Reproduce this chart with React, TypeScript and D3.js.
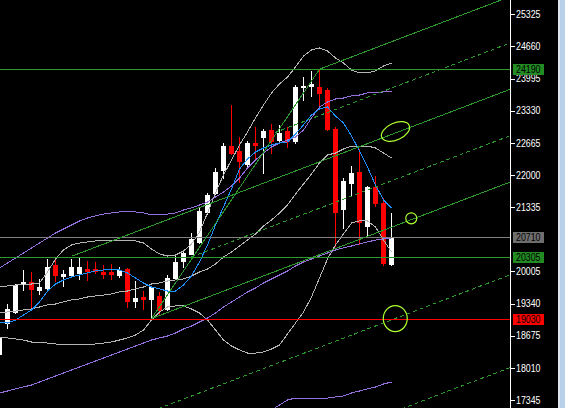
import { useEffect, useRef } from 'react'
import * as d3 from 'd3'

// daily candles, oldest first (bar 0 is cut by the left edge)
const opens = [18297, 18938, 19166, 19745, 19786, 19621, 19662, 20138, 19911, 19931,
  19973, 20055, 20055, 19993, 19993, 19931, 20055, 19393, 19476, 19435,
  19497, 19228, 19869, 20221, 20366, 20614, 21235, 21628, 22104, 22600,
  22497, 22228, 22662, 22786, 22931, 22724, 22911, 22704, 23821, 23842,
  23821, 23759, 22952, 21297, 21835, 22062, 20945, 21752, 21421, 20159]
const highs = [18669, 19331, 19745, 20035, 19993, 19849, 20262, 20242, 20035, 20262,
  20283, 20221, 20200, 20138, 20159, 20097, 20076, 19807, 19600, 19683,
  19580, 19931, 20324, 20428, 20800, 21318, 21628, 22145, 22662, 23448,
  22786, 22704, 22993, 22952, 23055, 23035, 22993, 23862, 24028, 24152,
  24190, 23800, 22993, 21938, 22186, 22538, 21773, 21980, 21524, 21214]
const lows = [18255, 18835, 19150, 19621, 19228, 19538, 19621, 19807, 19704, 19890,
  19849, 19828, 19973, 19869, 19849, 19890, 19269, 19269, 19228, 19030,
  19124, 19207, 19869, 20097, 20366, 20593, 21193, 21607, 21938, 22435,
  21855, 22166, 22352, 22042, 22455, 22662, 22580, 22662, 23552, 23635,
  23448, 22931, 20531, 20904, 21566, 20573, 20718, 21359, 20138, 20138]
const closes = [18628, 19228, 19724, 19786, 19642, 19683, 20097, 19931, 19952, 20097,
  20097, 20024, 20014, 19952, 19952, 20035, 19393, 19455, 19435, 19683,
  19207, 19869, 20200, 20386, 20676, 21255, 21586, 22062, 22600, 22455,
  22290, 22662, 22621, 22911, 22704, 22869, 22704, 23821, 23842, 23883,
  23697, 22952, 21235, 21876, 22042, 21028, 21752, 21421, 20180, 20710]

// bollinger bands
const bbUpper = [19683, 19704, 19724, 19745, 19745, 19766, 19993, 20262, 20449, 20552,
  20593, 20614, 20635, 20655, 20655, 20655, 20655, 20635, 20593, 20469,
  20366, 20324, 20345, 20428, 20573, 20821, 21214, 21628, 22000, 22311,
  22621, 22890, 23180, 23448, 23697, 23883, 24028, 24235, 24462, 24587,
  24628, 24566, 24421, 24318, 24173, 24111, 24111, 24152, 24256, 24318]
const bbMiddle = [19145, 19166, 19186, 19207, 19228, 19269, 19311, 19331, 19373, 19414,
  19435, 19476, 19497, 19517, 19538, 19580, 19600, 19642, 19683, 19745,
  19766, 19807, 19828, 19849, 19911, 19993, 20055, 20159, 20304, 20407,
  20531, 20655, 20780, 20945, 21069, 21214, 21380, 21607, 21814, 22021,
  22249, 22414, 22455, 22538, 22600, 22600, 22600, 22559, 22455, 22352]
const bbLower = [18628, 18628, 18607, 18586, 18545, 18545, 18524, 18504, 18483, 18483,
  18483, 18483, 18504, 18524, 18545, 18586, 18628, 18690, 18793, 19000,
  19166, 19269, 19290, 19290, 19228, 19145, 19000, 18793, 18586, 18462,
  18380, 18317, 18317, 18338, 18400, 18483, 18711, 18938, 19166, 19476,
  19869, 20262, 20552, 20780, 21007, 21049, 21049, 20924, 20655, 20407]

// fast moving average
const fastMa = [18959, 18938, 19000, 19104, 19207, 19373, 19600, 19745, 19828, 19890,
  19931, 19973, 20014, 20035, 20035, 20035, 19973, 19869, 19766, 19683,
  19642, 19600, 19600, 19724, 19911, 20200, 20552, 20966, 21338, 21711,
  22124, 22331, 22476, 22559, 22621, 22662, 22683, 22849, 23035, 23242,
  23366, 23407, 23221, 23076, 22807, 22497, 22166, 21793, 21483, 21318]

// slow average with its envelope
const envUpper = [20076, 20180, 20283, 20386, 20490, 20593, 20697, 20800, 20883, 20966,
  21049, 21111, 21152, 21193, 21214, 21235, 21235, 21235, 21214, 21173,
  21173, 21193, 21214, 21276, 21318, 21380, 21442, 21545, 21649, 21773,
  21938, 22145, 22311, 22455, 22580, 22662, 22724, 22786, 22931, 23180,
  23407, 23511, 23573, 23593, 23635, 23655, 23697, 23697, 23718, 23718]
const envMiddle = [17490, 17531, 17573, 17614, 17655, 17717, 17780, 17842, 17904, 17966,
  18028, 18090, 18152, 18214, 18276, 18338, 18400, 18462, 18524, 18586,
  18628, 18669, 18731, 18814, 18876, 18959, 19042, 19145, 19269, 19373,
  19476, 19580, 19662, 19766, 19849, 19931, 20014, 20118, 20200, 20262,
  20324, 20386, 20449, 20490, 20531, 20573, 20614, 20655, 20676, 20697]
const envLowerFrom = 33
const envLower = [17055, 17138, 17241, 17345, 17386, 17386, 17386, 17386, 17386, 17407,
  17428, 17490, 17531, 17573, 17614, 17676, 17717]

// channel lines: start bar, start price, end bar, end price
const chanBar1 = [19, 40, 34.4, 9, 24, 19, 10, 38]
const chanPrice1 = [19030, 24190, 22878, 20318, 20304, 19030, 16545, 16390]
const chanBar2 = [40, 64, 64, 64, 64, 64, 64, 64]
const chanPrice2 = [24190, 25702, 24743, 23784, 22824, 21865, 19947, 18028]

// horizontal levels
const levels = [24190, 20710, 20305, 19030]

// marked zones: bar, price
const markBars = [49.5, 51.47, 49.47]
const markPrices = [22900, 21104, 19030]

const tickValues = [25325, 24660, 23995, 23330, 22665, 22000, 21335, 20005, 19340, 18675, 18010, 17345]

export default function App() {
  const svgRef = useRef<SVGSVGElement>(null)

  useEffect(() => {
    if (!svgRef.current) return
    const svg = d3.select(svgRef.current)
    svg.selectAll('*').remove()

    const width = 565
    const height = 408
    const plotRight = 510

    const x = d3.scaleLinear().domain([0, 49]).range([-0.5, 391.5])
    const y = d3.scaleLinear().domain([17345, 25325]).range([400, 14.3])

    svg.append('rect').attr('width', width).attr('height', height).attr('fill', '#000')

    svg.append('defs').append('clipPath').attr('id', 'plot-area')
      .append('rect').attr('width', plotRight).attr('height', height)

    const g = svg.append('g').attr('clip-path', 'url(#plot-area)')

    // candles
    const cg = g.append('g').attr('shape-rendering', 'crispEdges')
    d3.range(opens.length).forEach(i => {
      const up = closes[i] >= opens[i]
      const col = up ? '#ffffff' : '#ff0000'
      const cx = Math.round(x(i) - 0.5) + 0.5
      cg.append('line')
        .attr('x1', cx).attr('x2', cx)
        .attr('y1', Math.round(y(highs[i])))
        .attr('y2', Math.round(y(lows[i])) + 1)
        .attr('stroke', col)
      const top = Math.round(y(Math.max(opens[i], closes[i])))
      const bot = Math.round(y(Math.min(opens[i], closes[i])))
      cg.append('rect')
        .attr('x', cx - 2.5)
        .attr('y', top)
        .attr('width', 5)
        .attr('height', Math.max(1, bot - top + 1))
        .attr('fill', col)
    })

    // indicator lines
    const series = (from: number) => d3.line<number>()
      .x((_, i) => x(i + from))
      .y(d => y(d))

    const drawLine = (data: number[], from: number, color: string) => {
      g.append('path')
        .datum(data)
        .attr('fill', 'none')
        .attr('stroke', color)
        .attr('stroke-width', 1)
        .attr('shape-rendering', 'crispEdges')
        .attr('d', series(from))
    }

    drawLine(bbUpper, 0, '#b4b4b4')
    drawLine(bbMiddle, 0, '#b4b4b4')
    drawLine(bbLower, 0, '#b4b4b4')
    drawLine(envUpper, 0, '#9370db')
    drawLine(envMiddle, 0, '#9370db')
    drawLine(envLower, envLowerFrom, '#9370db')
    drawLine(fastMa, 0, '#1e90ff')

    // horizontal levels
    const levelColors = ['#2c9a2c', '#808080', '#2c9a2c', '#ff0000']
    levels.forEach((v, k) => {
      const yy = Math.round(y(v)) + 0.5
      g.append('line')
        .attr('x1', 0).attr('x2', plotRight)
        .attr('y1', yy).attr('y2', yy)
        .attr('stroke', levelColors[k])
        .attr('shape-rendering', 'crispEdges')
    })

    // channel
    const chanDashed = [false, false, true, false, true, false, true, true]
    chanBar1.forEach((b, k) => {
      g.append('line')
        .attr('x1', x(b)).attr('y1', y(chanPrice1[k]))
        .attr('x2', x(chanBar2[k])).attr('y2', y(chanPrice2[k]))
        .attr('stroke', '#2c9a2c')
        .attr('stroke-width', 1)
        .attr('stroke-dasharray', chanDashed[k] ? '4,3' : null)
        .attr('shape-rendering', 'crispEdges')
    })

    // marked zones
    const markRx = [15, 5.5, 12]
    const markRy = [8.5, 5.5, 13]
    const markRot = [-24, 0, 0]
    markBars.forEach((b, k) => {
      const cx = x(b)
      const cy = y(markPrices[k])
      g.append('ellipse')
        .attr('cx', cx).attr('cy', cy)
        .attr('rx', markRx[k]).attr('ry', markRy[k])
        .attr('transform', `rotate(${markRot[k]} ${cx} ${cy})`)
        .attr('fill', 'none')
        .attr('stroke', '#adff2f')
        .attr('stroke-width', 1.2)
    })

    // price axis
    svg.append('line')
      .attr('x1', plotRight + 0.5).attr('x2', plotRight + 0.5)
      .attr('y1', 0).attr('y2', height)
      .attr('stroke', '#fff')
      .attr('shape-rendering', 'crispEdges')

    const axis = svg.append('g')
      .attr('transform', `translate(${plotRight},0)`)
      .call(d3.axisRight(y).tickValues(tickValues).tickSize(5).tickPadding(1).tickFormat(d3.format('d')))
    axis.select('.domain').remove()
    axis.selectAll('.tick line')
      .attr('stroke', '#fff')
      .attr('shape-rendering', 'crispEdges')
    axis.selectAll('.tick text')
      .attr('fill', '#fff')
      .attr('font-family', 'Liberation Sans, Arial, sans-serif')
      .attr('font-size', 10)
      .attr('textLength', 24.5)
      .attr('lengthAdjust', 'spacingAndGlyphs')

    // level price tags
    const tagFills = ['#228b22', '#6e6e6e', '#228b22', '#ff0000']
    levels.forEach((v, k) => {
      const yy = Math.round(y(v))
      svg.append('rect')
        .attr('x', 513).attr('y', yy - 5)
        .attr('width', 31).attr('height', 11)
        .attr('fill', tagFills[k])
        .attr('shape-rendering', 'crispEdges')
      svg.append('text')
        .attr('x', 516).attr('y', yy + 4)
        .attr('fill', '#000')
        .attr('font-family', 'Liberation Sans, Arial, sans-serif')
        .attr('font-size', 10)
        .attr('textLength', 24.5)
        .attr('lengthAdjust', 'spacingAndGlyphs')
        .text(String(v))
    })

    // window edge strip
    svg.append('rect').attr('x', 558).attr('y', 0).attr('width', 2).attr('height', height).attr('fill', '#dfe6ee')
    svg.append('rect').attr('x', 560).attr('y', 0).attr('width', 5).attr('height', height).attr('fill', '#b9d1ea')
  }, [])

  return (
    <svg
      ref={svgRef}
      width={565}
      height={408}
      style={{ position: 'absolute', left: 0, top: 0, display: 'block' }}
    />
  )
}
